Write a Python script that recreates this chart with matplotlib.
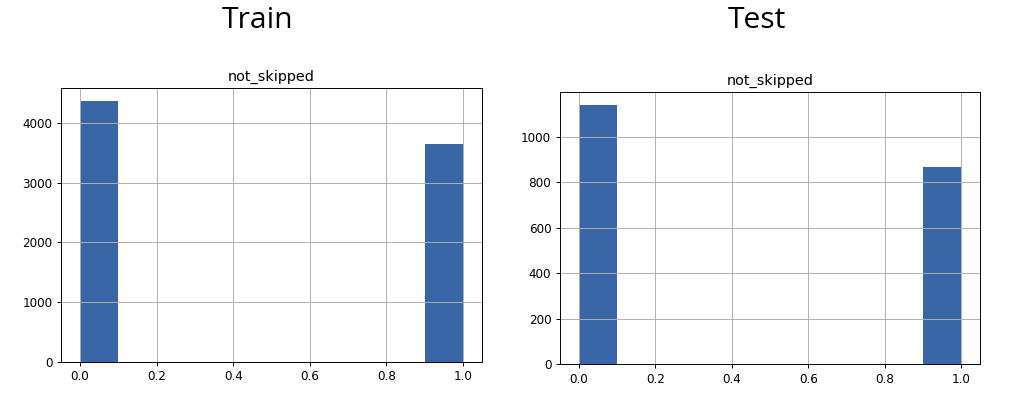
import matplotlib.pyplot as plt

# ==========================[Data]=============================
values = [0.0, 1.0]
train_counts = [4365, 3645]
test_counts = [1138, 866]
column = "not_skipped"
panel_titles = ["Train", "Test"]

bar_color = '#3866a6'

# 72 dpi notebook figure scaled by 1.2
dpi = 86.4
fig = plt.figure(figsize=(1018 / dpi, 400 / dpi), dpi=dpi)

ax1 = fig.add_axes([0.0599, 0.095, 0.4136, 0.685])
ax2 = fig.add_axes([0.5498, 0.0893, 0.4132, 0.68])

for ax, counts in zip([ax1, ax2], [train_counts, test_counts]):
    ax.hist(values, bins=10, range=(0, 1), weights=counts, color=bar_color)
    ax.set_title(column)
    ax.grid(True)

fig.text(257.5 / 1018, 1 - 28.3 / 400, panel_titles[0], ha='center', va='baseline',
         fontsize=25, family='Open Sans')
fig.text(757 / 1018, 1 - 28.3 / 400, panel_titles[1], ha='center', va='baseline',
         fontsize=25, family='Open Sans')

fig.savefig("out.png", dpi=dpi)
